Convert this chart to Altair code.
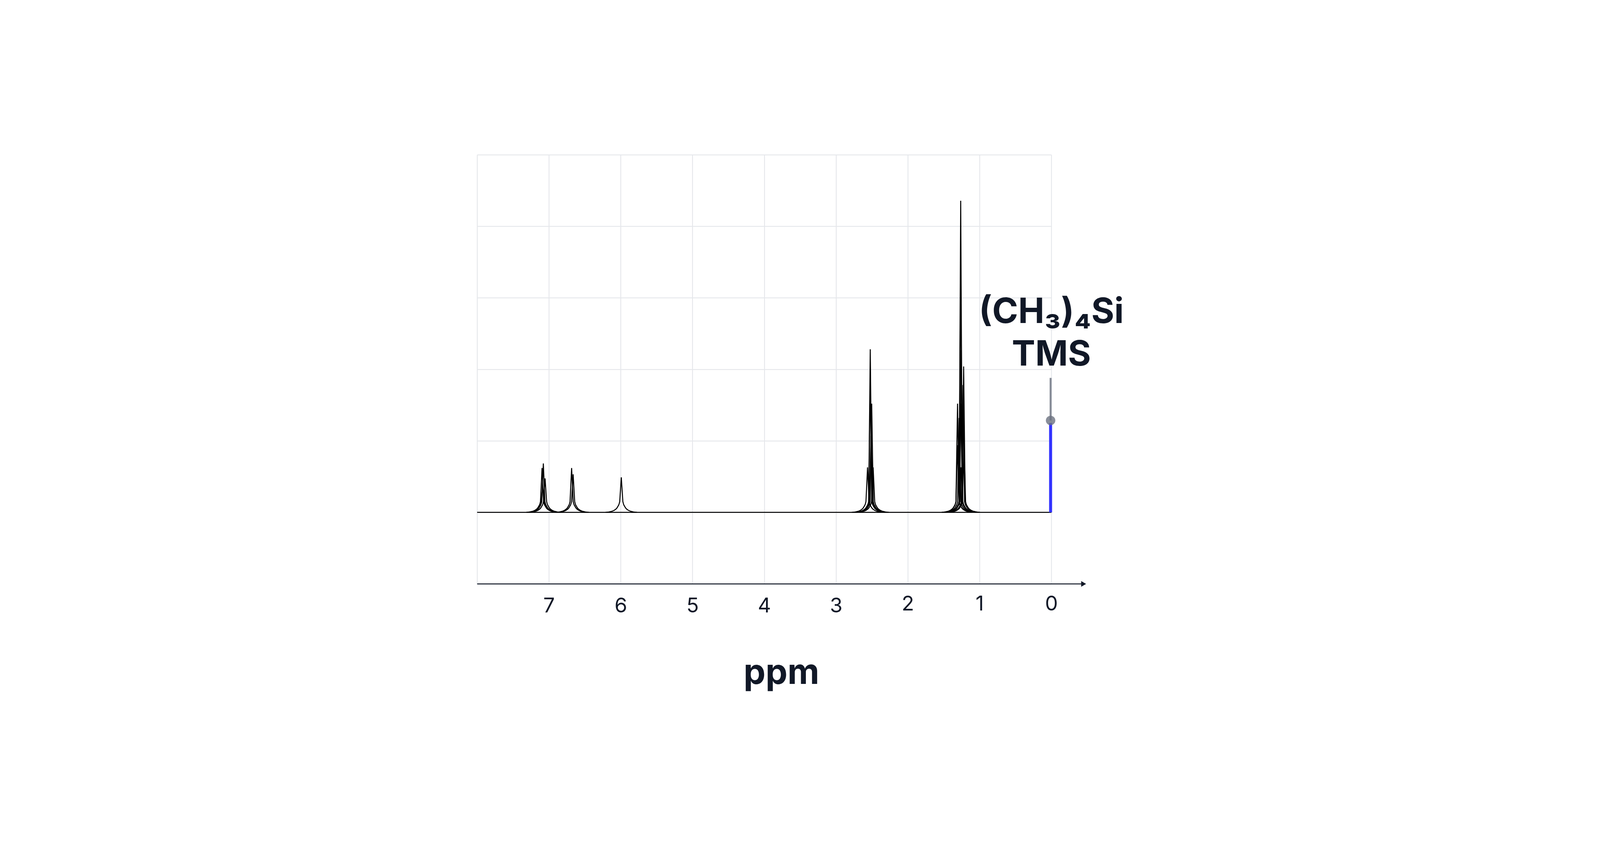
import altair as alt
import pandas as pd

# ---- data ----
peak_ppm = [7.096, 7.086, 7.078, 7.054, 6.684, 6.663, 5.992,
            2.561, 2.523, 2.523, 2.512, 2.512, 2.503, 2.483,
            1.307, 1.307, 1.284, 1.263, 1.263, 1.261, 1.261, 1.255,
            1.231, 1.222, 1.217]
peak_height = [0.62, 0.35, 0.684, 0.475, 0.62, 0.533, 0.49,
               0.63, 2.28, 1.82, 1.07, 0.80, 1.52, 0.63,
               1.52, 0.94, 1.32, 4.357, 3.49, 1.52, 0.63, 2.27,
               1.78, 2.04, 0.99]
# shape of each line's foot (distance from apex in ppm, intensity)
tail_offset = [0.022, 0.026, 0.030, 0.037, 0.045, 0.055, 0.065, 0.080,
               0.100, 0.130, 0.170, 0.220]
tail_level = [0.15, 0.135, 0.12, 0.10, 0.088, 0.07, 0.056, 0.042,
              0.028, 0.015, 0.006, 0.0]

baseline_ppm = [8.0, 0.0]
baseline_val = [0.0, 0.0]

tms_ppm = [0.0]
tms_height = [1.25]
tms_marker = [1.285]
tms_stem_top = [1.88]
tms_label_lines = ["(CH\u2083)\u2084Si", "TMS"]

x_ticks = [0, 1, 2, 3, 4, 5, 6, 7, 8]
y_grid = [-1, 0, 1, 2, 3, 4, 5]
axis_end_ppm = [-0.43]
arrow_ppm = [-0.45]
axis_title = "ppm"

# ---- build tables ----
rows = []
for i, (c, h) in enumerate(zip(peak_ppm, peak_height)):
    for o, lv in zip(reversed(tail_offset), reversed(tail_level)):
        rows.append({"line": f"p{i}", "ppm": c + o, "val": lv})
    rows.append({"line": f"p{i}", "ppm": c, "val": h})
    for o, lv in zip(tail_offset, tail_level):
        rows.append({"line": f"p{i}", "ppm": c - o, "val": lv})
for p, v in zip(baseline_ppm, baseline_val):
    rows.append({"line": "base", "ppm": p, "val": v})
spec_df = pd.DataFrame(rows)

tms_df = pd.DataFrame({"ppm": tms_ppm, "h": tms_height, "m": tms_marker,
                       "top": tms_stem_top, "zero": [0.0]})
axis_df = pd.DataFrame({"x1": [8.0], "x2": axis_end_ppm, "y": [-1.0],
                        "arrow": arrow_ppm})

INK = "#111827"
FONT = "Inter"

xscale = alt.Scale(domain=[0, 8], reverse=True, nice=False, zero=False)
yscale = alt.Scale(domain=[-1, 5], nice=False, zero=False)

xaxis = alt.Axis(values=x_ticks, grid=True, gridColor="#e5e7eb", gridWidth=3.5,
                 ticks=False, tickSize=0, domain=False, format="d",
                 labelFont=FONT, labelFontSize=82, labelColor=INK,
                 labelExpr="datum.value == 8 ? '' : datum.label",
                 labelPadding={"condition": {"test": "datum.value <= 2", "value": 41}, "value": 49},
                 labelFlush=False, labelOverlap=False,
                 title=axis_title, titleFont=FONT, titleFontSize=140,
                 titleFontWeight="bold", titleColor=INK,
                 titleX=1221, titleY=401, titleBaseline="alphabetic",
                 titleAlign="center", titleAnchor="start")
yaxis = alt.Axis(values=y_grid, grid=True, gridColor="#e5e7eb", gridWidth=3.5,
                 ticks=False, domain=False, labels=False, title=None)

lines = alt.Chart(spec_df).mark_line(color="black", strokeWidth=4).encode(
    x=alt.X("ppm:Q", scale=xscale, axis=xaxis),
    y=alt.Y("val:Q", scale=yscale, axis=yaxis),
    detail="line:N",
    order="ppm:Q",
)

blue = alt.Chart(tms_df).mark_rule(color="#3333ff", strokeWidth=12, xOffset=-3).encode(
    x=alt.X("ppm:Q", scale=xscale), y=alt.Y("zero:Q", scale=yscale), y2="h:Q")

stem = alt.Chart(tms_df).mark_rule(color="#6b7280", opacity=0.8, strokeWidth=8, xOffset=-3).encode(
    x=alt.X("ppm:Q", scale=xscale), y=alt.Y("m:Q", scale=yscale), y2="top:Q")

marker = alt.Chart(tms_df).mark_point(filled=True, color="#6b7280", opacity=0.8,
                                      size=1440, shape="circle", xOffset=-3).encode(
    x=alt.X("ppm:Q", scale=xscale), y=alt.Y("m:Q", scale=yscale))

label = alt.Chart(tms_df).mark_text(text=tms_label_lines, font=FONT, fontSize=141,
                                    fontWeight="bold", color=INK, align="center",
                                    baseline="alphabetic", lineHeight=170, dy=-220).encode(
    x=alt.X("ppm:Q", scale=xscale), y=alt.Y("top:Q", scale=yscale))

axis_line = alt.Chart(axis_df).mark_rule(color=INK, strokeWidth=4).encode(
    x=alt.X("x1:Q", scale=xscale), x2="x2:Q", y=alt.Y("y:Q", scale=yscale))

arrow = alt.Chart(axis_df).mark_point(shape="triangle-right", filled=True, color=INK,
                                      opacity=1, size=520).encode(
    x=alt.X("arrow:Q", scale=xscale), y=alt.Y("y:Q", scale=yscale))

chart = alt.layer(lines, blue, stem, marker, label, axis_line, arrow).properties(
    width=2305, height=1723,
    autosize=alt.AutoSizeParams(type="none"),
    padding={"left": 1903, "top": 0, "right": 2190, "bottom": 420},
    background="white",
).configure_view(strokeWidth=0)

chart.save("out.html", embed_options={"renderer": "svg", "actions": False})
